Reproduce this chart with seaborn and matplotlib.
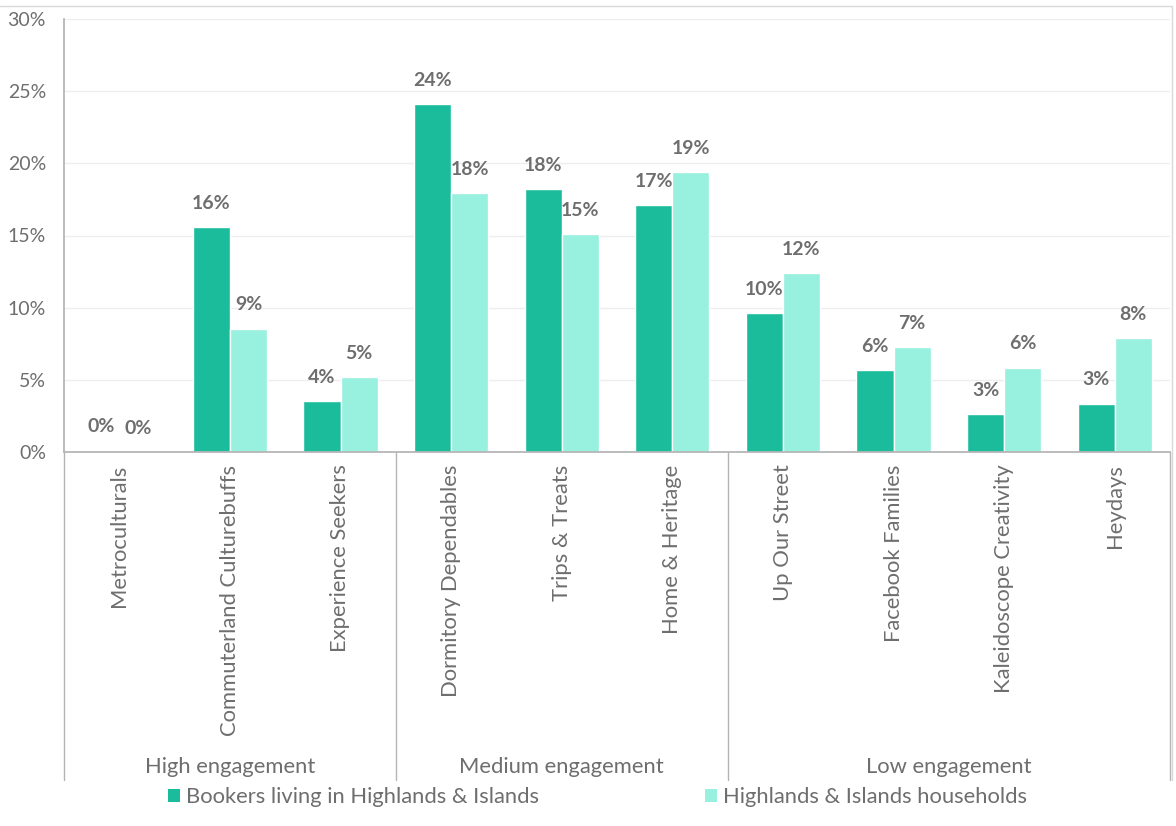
import matplotlib
matplotlib.use("Agg")
import matplotlib.pyplot as plt
import matplotlib.transforms as mtransforms
from matplotlib.patches import Patch
from matplotlib.lines import Line2D
import seaborn as sns
import pandas as pd

# Audience segments, grouped by engagement level
segments = [
    "Metroculturals", "Commuterland Culturebuffs", "Experience Seekers",
    "Dormitory Dependables", "Trips & Treats", "Home & Heritage",
    "Up Our Street", "Facebook Families", "Kaleidoscope Creativity", "Heydays",
]
groups = ["High engagement", "Medium engagement", "Low engagement"]
group_sizes = [3, 3, 4]

series_names = ["Bookers living in Highlands & Islands", "Highlands & Islands households"]
bookers = [0.1, 15.6, 3.52, 24.1, 18.2, 17.1, 9.6, 5.65, 2.6, 3.35]
households = [0.0, 8.55, 5.2, 17.95, 15.1, 19.4, 12.4, 7.25, 5.85, 7.9]

y_ticks = [0, 5, 10, 15, 20, 25, 30]

colors = ["#1abc9c", "#98f0de"]
text_color = "#6e6e6e"
line_color = "#b4b4b4"
grid_color = "#eeeeee"
word_size = 15.8
num_size = 14

sns.set_theme(style="white")
plt.rcParams["font.family"] = ["Lato", "DejaVu Sans"]

df = pd.DataFrame({
    "segment": segments * 2,
    "series": [series_names[0]] * len(segments) + [series_names[1]] * len(segments),
    "value": bookers + households,
})

W, H = 1176, 826
fig = plt.figure(figsize=(W / 100, H / 100), dpi=100)
ax_left, ax_right = 64 / W, 1170 / W
ax_bottom, ax_top = 1 - 452 / H, 1 - 19 / H
ax = fig.add_axes([ax_left, ax_bottom, ax_right - ax_left, ax_top - ax_bottom])

sns.barplot(data=df, x="segment", y="value", hue="series", order=segments,
            hue_order=series_names, palette=colors, width=0.67, gap=0,
            saturation=1, ax=ax, legend=False, errorbar=None)

ax.set_xlim(-0.5, len(segments) - 0.5)
ax.set_ylim(0, 30)
ax.set_yticks(y_ticks)
ax.set_yticklabels([f"{t}%" for t in y_ticks], fontsize=num_size, color=text_color)
ax.set_xlabel("")
ax.set_ylabel("")
ax.yaxis.grid(True, color=grid_color, linewidth=1)
ax.set_axisbelow(True)
ax.tick_params(axis="y", length=0, pad=13)
ax.tick_params(axis="x", length=0, pad=9)
ax.set_xticks(range(len(segments)))
ax.set_xticklabels(segments, rotation=90, fontsize=word_size, color=text_color,
                   ha="center", va="top")

for side in ["top", "right"]:
    ax.spines[side].set_visible(False)
ax.spines["left"].set_color(line_color)
ax.spines["bottom"].set_color(line_color)

# value labels above each bar
for cont, vals in zip(ax.containers, [bookers, households]):
    ax.bar_label(cont, labels=[f"{v:.0f}%" for v in vals], padding=11,
                 fontsize=num_size, fontweight="bold", color=text_color)

# group separators and group names below the category labels
trans = mtransforms.blended_transform_factory(ax.transData, ax.transAxes)
sep_depth = -(780 - 452) / (452 - 19)
bounds = [-0.5]
for n in group_sizes:
    bounds.append(bounds[-1] + n)
for b in bounds:
    ax.add_line(Line2D([b, b], [0, sep_depth], transform=trans, color=line_color,
                       linewidth=1, clip_on=False))
label_y = -(767 - 452) / (452 - 19)
for g, lo, hi in zip(groups, bounds[:-1], bounds[1:]):
    ax.text((lo + hi) / 2, label_y, g, transform=trans, ha="center", va="center",
            fontsize=word_size, color=text_color)

# legend row
handles = [Patch(facecolor=c, edgecolor="none") for c in colors]
fig.legend(handles, series_names, loc="center left", bbox_to_anchor=(168 / W, 1 - 797 / H),
           ncol=2, frameon=False, fontsize=word_size, labelcolor=text_color,
           handlelength=0.55, handleheight=0.55, handletextpad=0.25, columnspacing=7.6,
           borderaxespad=0, borderpad=0)

# light chart border along top and right
fig.add_artist(Line2D([0, 1172 / W], [1 - 6 / H, 1 - 6 / H], transform=fig.transFigure,
                      color="#d9d9d9", linewidth=1))
fig.add_artist(Line2D([1172 / W, 1172 / W], [1 - 6 / H, 1 - 780 / H], transform=fig.transFigure,
                      color="#d9d9d9", linewidth=1))

fig.savefig("out.png", dpi=100, facecolor="white")
